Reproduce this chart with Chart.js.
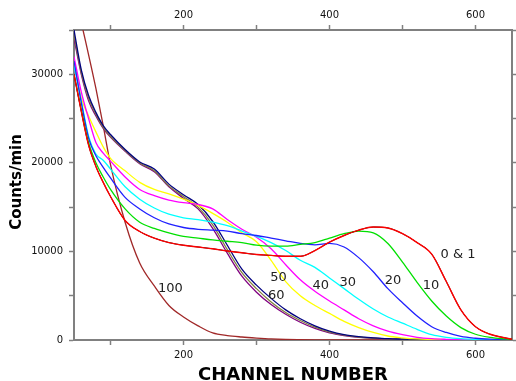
<!DOCTYPE html>
<html>
<head>
<meta charset="utf-8">
<script src="https://cdn.jsdelivr.net/npm/chart.js@4"></script>
<style>
  body { margin: 0; background: #fff; }
  #wrap { width: 516px; height: 381px; position: relative; }
</style>
</head>
<body>
<div id="wrap"><canvas id="chart"></canvas></div>
<script>
const channels = [50, 60, 70, 80, 90, 100, 120, 140, 160, 180, 200, 220, 240, 260, 280, 300, 320, 340,
                  360, 380, 400, 420, 440, 460, 480, 500, 520, 540, 560, 580, 600, 620, 640, 650];

// counts/min for each run
const run0 = [30000, 25800, 22000, 19600, 17800, 16200, 13500, 12250, 11500, 11000, 10700, 10500, 10300, 10050, 9850, 9650, 9550, 9450,
              9450, 10100, 11050, 11800, 12400, 12750, 12650, 12000, 11000, 9700, 6600, 3400, 1500, 650, 250, 80];
const run1 = [30000, 25800, 22000, 19600, 17800, 16200, 13500, 12250, 11500, 11000, 10700, 10500, 10300, 10050, 9850, 9650, 9550, 9450,
              9450, 10100, 11050, 11800, 12400, 12750, 12650, 12000, 11000, 9700, 6600, 3400, 1500, 650, 250, 80];
const run10 = [30000, 26000, 22300, 20000, 18400, 17000, 14800, 13300, 12600, 12100, 11700, 11500, 11300, 11150, 11000, 10700, 10600, 10600,
               10800, 11000, 11500, 12000, 12300, 12100, 10900, 8800, 6500, 4400, 2700, 1400, 650, 300, 120, 60];
const run20 = [31500, 26800, 22800, 20800, 19500, 18300, 16100, 14800, 13800, 13100, 12700, 12500, 12400, 12300, 12000, 11800, 11500, 11200,
               10900, 10750, 10900, 10500, 9300, 7700, 5800, 4200, 2700, 1500, 850, 400, 200, 100, 50, 30];
const run30 = [31000, 27000, 23000, 21000, 20300, 19300, 17300, 15900, 14900, 14200, 13800, 13600, 13300, 12900, 12300, 11700, 11000, 10100,
               9000, 8200, 7000, 5800, 4600, 3500, 2600, 1900, 1200, 600, 300, 150, 80, 40, 20, 10];
const run40 = [32000, 28000, 25000, 22300, 21100, 20200, 18400, 17000, 16300, 15800, 15500, 15300, 14800, 13600, 12500, 11600, 10300, 8500,
               6800, 5500, 4400, 3400, 2400, 1600, 1000, 600, 300, 150, 80, 40, 20, 10, 5, 0];
const run50 = [31500, 27300, 25300, 23500, 21800, 20500, 19100, 17800, 17000, 16500, 15900, 15200, 14300, 13300, 12100, 11100, 9000, 6600,
               5000, 3900, 3000, 2100, 1400, 850, 450, 250, 120, 60, 30, 15, 10, 5, 0, 0];
const run60a = [35000, 30500, 27600, 25700, 24200, 23200, 21500, 20100, 19300, 17600, 16400, 15300, 13400, 10700, 8000, 6200, 4700, 3400,
                2400, 1600, 1000, 600, 380, 250, 150, 100, 60, 40, 20, 10, 5, 0, 0, 0];
const run60b = [34500, 30200, 27300, 25500, 24000, 23000, 21400, 20000, 19100, 17400, 16200, 15000, 13000, 10200, 7600, 5800, 4300, 3100,
                2200, 1450, 900, 550, 340, 220, 130, 90, 55, 35, 18, 9, 5, 0, 0, 0];
const run60c = [34000, 30000, 27000, 25300, 23900, 22900, 21300, 19900, 19000, 17300, 16000, 14800, 12600, 9800, 7200, 5400, 4000, 2900,
                2000, 1300, 800, 500, 300, 200, 120, 80, 50, 30, 15, 8, 4, 0, 0, 0];
const run100 = [39000, 35800, 32200, 28400, 24200, 19800, 13300, 8700, 6100, 3900, 2600, 1600, 800, 500, 340, 220, 120, 60,
                30, 10, 0, 0, 0, 0, 0, 0, 0, 0, 0, 0, 0, 0, 0, 0];

// curve labels: text, channel, counts
const labelTexts = ['0 & 1', '10', '20', '30', '40', '50', '60', '100'];
const labelChannels = [576, 539, 487, 425, 388, 330, 327, 182];
const labelCounts = [9600, 6100, 6700, 6450, 6100, 7000, 5000, 5800];

// tick marks, and which of them carry a label
const xTickValues = [100, 200, 300, 400, 500, 600];
const xTickLabels = [200, 400, 600];
const yTickValues = [0, 5000, 10000, 15000, 20000, 25000, 30000, 35000];
const yTickLabels = [0, 10000, 20000, 30000];

function points(values) {
    return channels.map((c, i) => ({ x: c, y: values[i] }));
}

function line(values, color, width) {
    return {
        data: points(values),
        borderColor: color,
        borderWidth: width || 1.3,
        pointRadius: 0,
        cubicInterpolationMode: 'monotone',
        fill: false
    };
}

const axisGray = '#808080';
const tickFont = { family: 'DejaVu Sans', size: 10 };

function xAxis(position, height) {
    return {
        type: 'linear',
        position: position,
        min: 50,
        max: 650,
        afterFit: s => { s.height = height; },
        afterBuildTicks: s => { s.ticks = xTickValues.map(v => ({ value: v })); },
        border: { display: true, color: axisGray, width: 2 },
        grid: { drawOnChartArea: false, drawTicks: true, tickLength: 5, color: axisGray, tickWidth: 1.5 },
        ticks: {
            maxRotation: 0,
            autoSkip: false,
            padding: 4,
            color: '#111',
            font: tickFont,
            callback: v => xTickLabels.includes(v) ? String(v) : ''
        }
    };
}

function yAxis(position, width, labels) {
    return {
        type: 'linear',
        position: position,
        min: 0,
        max: 35000,
        afterFit: s => { s.width = width; },
        afterBuildTicks: s => { s.ticks = yTickValues.map(v => ({ value: v })); },
        border: { display: true, color: axisGray, width: 2 },
        grid: { drawOnChartArea: false, drawTicks: true, tickLength: 5, color: axisGray, tickWidth: 1.5 },
        ticks: {
            autoSkip: false,
            padding: 6,
            color: '#111',
            font: tickFont,
            display: labels,
            callback: v => yTickLabels.includes(v) ? String(v) : ''
        }
    };
}

// axis titles and curve labels
const textPlugin = {
    id: 'texts',
    afterDraw(chart) {
        const ctx = chart.ctx;
        const xs = chart.scales.x, ys = chart.scales.y;
        ctx.save();
        ctx.fillStyle = '#222';
        ctx.font = '13px "DejaVu Sans"';
        ctx.textAlign = 'center';
        ctx.textBaseline = 'middle';
        labelTexts.forEach((t, i) => {
            ctx.fillText(t, xs.getPixelForValue(labelChannels[i]), ys.getPixelForValue(labelCounts[i]));
        });

        ctx.fillStyle = '#000';
        ctx.font = 'bold 18px "DejaVu Sans"';
        ctx.textBaseline = 'alphabetic';
        ctx.fillText('CHANNEL NUMBER', 293, 380);

        ctx.translate(21, 182);
        ctx.rotate(-Math.PI / 2);
        ctx.font = 'bold 15px "DejaVu Sans"';
        ctx.fillText('Counts/min', 0, 0);
        ctx.restore();
    }
};

new Chart(document.getElementById('chart'), {
    type: 'line',
    data: {
        datasets: [
            line(run1, '#ff0000', 1.4),
            line(run0, '#000000', 1),
            line(run10, '#00e000'),
            line(run20, '#2020ff'),
            line(run30, '#00ffff'),
            line(run40, '#ff00ff'),
            line(run50, '#ffff00'),
            line(run60a, '#000080'),
            line(run60b, '#808040'),
            line(run60c, '#800080'),
            line(run100, '#a02828')
        ]
    },
    options: {
        responsive: true,
        maintainAspectRatio: false,
        animation: false,
        layout: { padding: 0 },
        plugins: { legend: { display: false }, tooltip: { enabled: false } },
        scales: {
            x: xAxis('bottom', 41),
            x2: xAxis('top', 30),
            y: yAxis('left', 74, true),
            y2: yAxis('right', 4, false)
        }
    },
    plugins: [textPlugin]
});
</script>
</body>
</html>
